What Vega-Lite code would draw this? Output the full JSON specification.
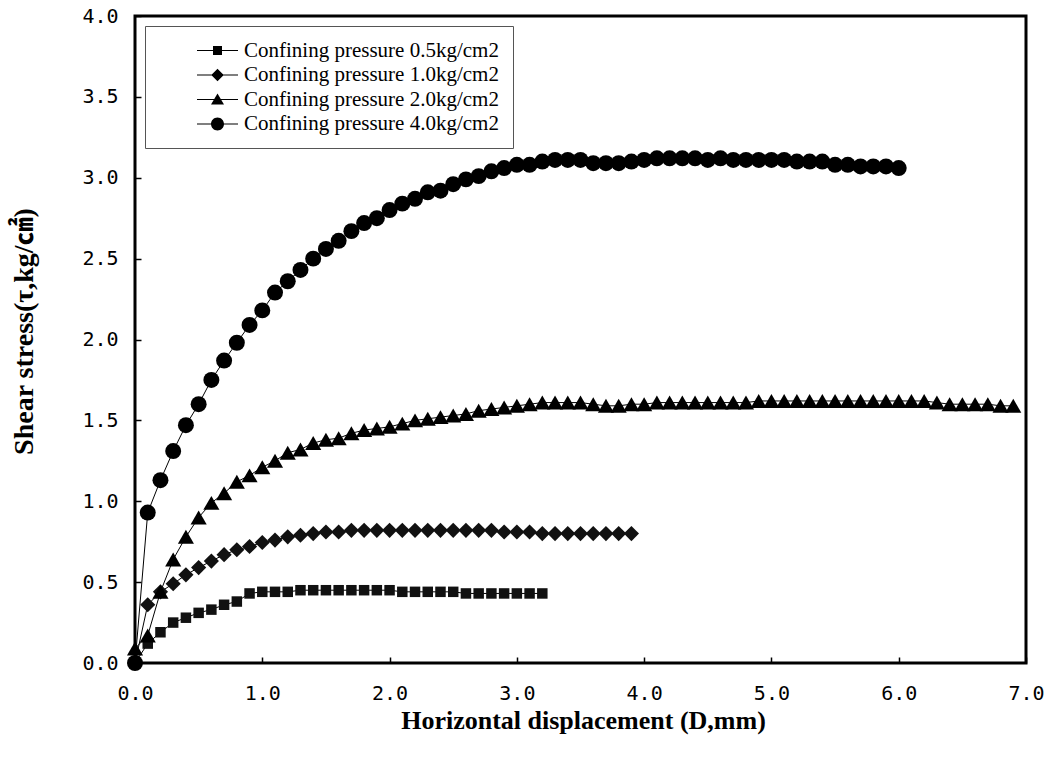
{
  "$schema": "https://vega.github.io/schema/vega-lite/v6.json",
  "width": 891,
  "height": 647,
  "autosize": {"type": "none"},
  "padding": {"left": 135, "top": 16, "right": 19, "bottom": 94},
  "background": "#ffffff",
  "config": {
    "view": {"stroke": "#000000", "strokeWidth": 3},
    "axis": {
      "grid": false,
      "domain": false,
      "ticks": true,
      "tickColor": "#000000",
      "tickWidth": 1.5,
      "tickSize": -6,
      "labelFont": "DejaVu Sans Mono",
      "labelFontSize": 20,
      "labelColor": "#000000",
      "labelFlush": false,
      "labelOverlap": false,
      "titleFont": "'Liberation Serif', 'Noto Sans CJK KR'",
      "titleFontWeight": "bold",
      "titleColor": "#000000"
    }
  },
  "data": {
    "values": [
      {"pressure": "0.5kg/cm2", "disp": 0.0, "stress": 0.0},
      {"pressure": "0.5kg/cm2", "disp": 0.1, "stress": 0.12},
      {"pressure": "0.5kg/cm2", "disp": 0.2, "stress": 0.19},
      {"pressure": "0.5kg/cm2", "disp": 0.3, "stress": 0.25},
      {"pressure": "0.5kg/cm2", "disp": 0.4, "stress": 0.28},
      {"pressure": "0.5kg/cm2", "disp": 0.5, "stress": 0.31},
      {"pressure": "0.5kg/cm2", "disp": 0.6, "stress": 0.33},
      {"pressure": "0.5kg/cm2", "disp": 0.7, "stress": 0.36},
      {"pressure": "0.5kg/cm2", "disp": 0.8, "stress": 0.38},
      {"pressure": "0.5kg/cm2", "disp": 0.9, "stress": 0.43},
      {"pressure": "0.5kg/cm2", "disp": 1.0, "stress": 0.44},
      {"pressure": "0.5kg/cm2", "disp": 1.1, "stress": 0.44},
      {"pressure": "0.5kg/cm2", "disp": 1.2, "stress": 0.44},
      {"pressure": "0.5kg/cm2", "disp": 1.3, "stress": 0.45},
      {"pressure": "0.5kg/cm2", "disp": 1.4, "stress": 0.45},
      {"pressure": "0.5kg/cm2", "disp": 1.5, "stress": 0.45},
      {"pressure": "0.5kg/cm2", "disp": 1.6, "stress": 0.45},
      {"pressure": "0.5kg/cm2", "disp": 1.7, "stress": 0.45},
      {"pressure": "0.5kg/cm2", "disp": 1.8, "stress": 0.45},
      {"pressure": "0.5kg/cm2", "disp": 1.9, "stress": 0.45},
      {"pressure": "0.5kg/cm2", "disp": 2.0, "stress": 0.45},
      {"pressure": "0.5kg/cm2", "disp": 2.1, "stress": 0.44},
      {"pressure": "0.5kg/cm2", "disp": 2.2, "stress": 0.44},
      {"pressure": "0.5kg/cm2", "disp": 2.3, "stress": 0.44},
      {"pressure": "0.5kg/cm2", "disp": 2.4, "stress": 0.44},
      {"pressure": "0.5kg/cm2", "disp": 2.5, "stress": 0.44},
      {"pressure": "0.5kg/cm2", "disp": 2.6, "stress": 0.43},
      {"pressure": "0.5kg/cm2", "disp": 2.7, "stress": 0.43},
      {"pressure": "0.5kg/cm2", "disp": 2.8, "stress": 0.43},
      {"pressure": "0.5kg/cm2", "disp": 2.9, "stress": 0.43},
      {"pressure": "0.5kg/cm2", "disp": 3.0, "stress": 0.43},
      {"pressure": "0.5kg/cm2", "disp": 3.1, "stress": 0.43},
      {"pressure": "0.5kg/cm2", "disp": 3.2, "stress": 0.43},

      {"pressure": "1.0kg/cm2", "disp": 0.0, "stress": 0.0},
      {"pressure": "1.0kg/cm2", "disp": 0.1, "stress": 0.36},
      {"pressure": "1.0kg/cm2", "disp": 0.2, "stress": 0.44},
      {"pressure": "1.0kg/cm2", "disp": 0.3, "stress": 0.49},
      {"pressure": "1.0kg/cm2", "disp": 0.4, "stress": 0.545},
      {"pressure": "1.0kg/cm2", "disp": 0.5, "stress": 0.59},
      {"pressure": "1.0kg/cm2", "disp": 0.6, "stress": 0.63},
      {"pressure": "1.0kg/cm2", "disp": 0.7, "stress": 0.67},
      {"pressure": "1.0kg/cm2", "disp": 0.8, "stress": 0.7},
      {"pressure": "1.0kg/cm2", "disp": 0.9, "stress": 0.72},
      {"pressure": "1.0kg/cm2", "disp": 1.0, "stress": 0.745},
      {"pressure": "1.0kg/cm2", "disp": 1.1, "stress": 0.76},
      {"pressure": "1.0kg/cm2", "disp": 1.2, "stress": 0.78},
      {"pressure": "1.0kg/cm2", "disp": 1.3, "stress": 0.79},
      {"pressure": "1.0kg/cm2", "disp": 1.4, "stress": 0.8},
      {"pressure": "1.0kg/cm2", "disp": 1.5, "stress": 0.81},
      {"pressure": "1.0kg/cm2", "disp": 1.6, "stress": 0.81},
      {"pressure": "1.0kg/cm2", "disp": 1.7, "stress": 0.82},
      {"pressure": "1.0kg/cm2", "disp": 1.8, "stress": 0.82},
      {"pressure": "1.0kg/cm2", "disp": 1.9, "stress": 0.82},
      {"pressure": "1.0kg/cm2", "disp": 2.0, "stress": 0.82},
      {"pressure": "1.0kg/cm2", "disp": 2.1, "stress": 0.82},
      {"pressure": "1.0kg/cm2", "disp": 2.2, "stress": 0.82},
      {"pressure": "1.0kg/cm2", "disp": 2.3, "stress": 0.82},
      {"pressure": "1.0kg/cm2", "disp": 2.4, "stress": 0.82},
      {"pressure": "1.0kg/cm2", "disp": 2.5, "stress": 0.82},
      {"pressure": "1.0kg/cm2", "disp": 2.6, "stress": 0.82},
      {"pressure": "1.0kg/cm2", "disp": 2.7, "stress": 0.82},
      {"pressure": "1.0kg/cm2", "disp": 2.8, "stress": 0.82},
      {"pressure": "1.0kg/cm2", "disp": 2.9, "stress": 0.81},
      {"pressure": "1.0kg/cm2", "disp": 3.0, "stress": 0.81},
      {"pressure": "1.0kg/cm2", "disp": 3.1, "stress": 0.81},
      {"pressure": "1.0kg/cm2", "disp": 3.2, "stress": 0.8},
      {"pressure": "1.0kg/cm2", "disp": 3.3, "stress": 0.8},
      {"pressure": "1.0kg/cm2", "disp": 3.4, "stress": 0.8},
      {"pressure": "1.0kg/cm2", "disp": 3.5, "stress": 0.8},
      {"pressure": "1.0kg/cm2", "disp": 3.6, "stress": 0.8},
      {"pressure": "1.0kg/cm2", "disp": 3.7, "stress": 0.8},
      {"pressure": "1.0kg/cm2", "disp": 3.8, "stress": 0.8},
      {"pressure": "1.0kg/cm2", "disp": 3.9, "stress": 0.8},

      {"pressure": "2.0kg/cm2", "disp": 0.0, "stress": 0.09},
      {"pressure": "2.0kg/cm2", "disp": 0.1, "stress": 0.17},
      {"pressure": "2.0kg/cm2", "disp": 0.2, "stress": 0.44},
      {"pressure": "2.0kg/cm2", "disp": 0.3, "stress": 0.64},
      {"pressure": "2.0kg/cm2", "disp": 0.4, "stress": 0.78},
      {"pressure": "2.0kg/cm2", "disp": 0.5, "stress": 0.9},
      {"pressure": "2.0kg/cm2", "disp": 0.6, "stress": 0.99},
      {"pressure": "2.0kg/cm2", "disp": 0.7, "stress": 1.05},
      {"pressure": "2.0kg/cm2", "disp": 0.8, "stress": 1.12},
      {"pressure": "2.0kg/cm2", "disp": 0.9, "stress": 1.16},
      {"pressure": "2.0kg/cm2", "disp": 1.0, "stress": 1.21},
      {"pressure": "2.0kg/cm2", "disp": 1.1, "stress": 1.25},
      {"pressure": "2.0kg/cm2", "disp": 1.2, "stress": 1.3},
      {"pressure": "2.0kg/cm2", "disp": 1.3, "stress": 1.32},
      {"pressure": "2.0kg/cm2", "disp": 1.4, "stress": 1.36},
      {"pressure": "2.0kg/cm2", "disp": 1.5, "stress": 1.38},
      {"pressure": "2.0kg/cm2", "disp": 1.6, "stress": 1.39},
      {"pressure": "2.0kg/cm2", "disp": 1.7, "stress": 1.42},
      {"pressure": "2.0kg/cm2", "disp": 1.8, "stress": 1.44},
      {"pressure": "2.0kg/cm2", "disp": 1.9, "stress": 1.45},
      {"pressure": "2.0kg/cm2", "disp": 2.0, "stress": 1.46},
      {"pressure": "2.0kg/cm2", "disp": 2.1, "stress": 1.48},
      {"pressure": "2.0kg/cm2", "disp": 2.2, "stress": 1.5},
      {"pressure": "2.0kg/cm2", "disp": 2.3, "stress": 1.51},
      {"pressure": "2.0kg/cm2", "disp": 2.4, "stress": 1.52},
      {"pressure": "2.0kg/cm2", "disp": 2.5, "stress": 1.53},
      {"pressure": "2.0kg/cm2", "disp": 2.6, "stress": 1.54},
      {"pressure": "2.0kg/cm2", "disp": 2.7, "stress": 1.56},
      {"pressure": "2.0kg/cm2", "disp": 2.8, "stress": 1.57},
      {"pressure": "2.0kg/cm2", "disp": 2.9, "stress": 1.58},
      {"pressure": "2.0kg/cm2", "disp": 3.0, "stress": 1.59},
      {"pressure": "2.0kg/cm2", "disp": 3.1, "stress": 1.6},
      {"pressure": "2.0kg/cm2", "disp": 3.2, "stress": 1.61},
      {"pressure": "2.0kg/cm2", "disp": 3.3, "stress": 1.61},
      {"pressure": "2.0kg/cm2", "disp": 3.4, "stress": 1.61},
      {"pressure": "2.0kg/cm2", "disp": 3.5, "stress": 1.61},
      {"pressure": "2.0kg/cm2", "disp": 3.6, "stress": 1.6},
      {"pressure": "2.0kg/cm2", "disp": 3.7, "stress": 1.59},
      {"pressure": "2.0kg/cm2", "disp": 3.8, "stress": 1.59},
      {"pressure": "2.0kg/cm2", "disp": 3.9, "stress": 1.6},
      {"pressure": "2.0kg/cm2", "disp": 4.0, "stress": 1.6},
      {"pressure": "2.0kg/cm2", "disp": 4.1, "stress": 1.61},
      {"pressure": "2.0kg/cm2", "disp": 4.2, "stress": 1.61},
      {"pressure": "2.0kg/cm2", "disp": 4.3, "stress": 1.61},
      {"pressure": "2.0kg/cm2", "disp": 4.4, "stress": 1.61},
      {"pressure": "2.0kg/cm2", "disp": 4.5, "stress": 1.61},
      {"pressure": "2.0kg/cm2", "disp": 4.6, "stress": 1.61},
      {"pressure": "2.0kg/cm2", "disp": 4.7, "stress": 1.61},
      {"pressure": "2.0kg/cm2", "disp": 4.8, "stress": 1.61},
      {"pressure": "2.0kg/cm2", "disp": 4.9, "stress": 1.62},
      {"pressure": "2.0kg/cm2", "disp": 5.0, "stress": 1.62},
      {"pressure": "2.0kg/cm2", "disp": 5.1, "stress": 1.62},
      {"pressure": "2.0kg/cm2", "disp": 5.2, "stress": 1.62},
      {"pressure": "2.0kg/cm2", "disp": 5.3, "stress": 1.62},
      {"pressure": "2.0kg/cm2", "disp": 5.4, "stress": 1.62},
      {"pressure": "2.0kg/cm2", "disp": 5.5, "stress": 1.62},
      {"pressure": "2.0kg/cm2", "disp": 5.6, "stress": 1.62},
      {"pressure": "2.0kg/cm2", "disp": 5.7, "stress": 1.62},
      {"pressure": "2.0kg/cm2", "disp": 5.8, "stress": 1.62},
      {"pressure": "2.0kg/cm2", "disp": 5.9, "stress": 1.62},
      {"pressure": "2.0kg/cm2", "disp": 6.0, "stress": 1.62},
      {"pressure": "2.0kg/cm2", "disp": 6.1, "stress": 1.62},
      {"pressure": "2.0kg/cm2", "disp": 6.2, "stress": 1.62},
      {"pressure": "2.0kg/cm2", "disp": 6.3, "stress": 1.61},
      {"pressure": "2.0kg/cm2", "disp": 6.4, "stress": 1.6},
      {"pressure": "2.0kg/cm2", "disp": 6.5, "stress": 1.6},
      {"pressure": "2.0kg/cm2", "disp": 6.6, "stress": 1.6},
      {"pressure": "2.0kg/cm2", "disp": 6.7, "stress": 1.6},
      {"pressure": "2.0kg/cm2", "disp": 6.8, "stress": 1.59},
      {"pressure": "2.0kg/cm2", "disp": 6.9, "stress": 1.59},

      {"pressure": "4.0kg/cm2", "disp": 0.0, "stress": 0.0},
      {"pressure": "4.0kg/cm2", "disp": 0.1, "stress": 0.93},
      {"pressure": "4.0kg/cm2", "disp": 0.2, "stress": 1.13},
      {"pressure": "4.0kg/cm2", "disp": 0.3, "stress": 1.31},
      {"pressure": "4.0kg/cm2", "disp": 0.4, "stress": 1.47},
      {"pressure": "4.0kg/cm2", "disp": 0.5, "stress": 1.6},
      {"pressure": "4.0kg/cm2", "disp": 0.6, "stress": 1.75},
      {"pressure": "4.0kg/cm2", "disp": 0.7, "stress": 1.87},
      {"pressure": "4.0kg/cm2", "disp": 0.8, "stress": 1.98},
      {"pressure": "4.0kg/cm2", "disp": 0.9, "stress": 2.09},
      {"pressure": "4.0kg/cm2", "disp": 1.0, "stress": 2.18},
      {"pressure": "4.0kg/cm2", "disp": 1.1, "stress": 2.29},
      {"pressure": "4.0kg/cm2", "disp": 1.2, "stress": 2.36},
      {"pressure": "4.0kg/cm2", "disp": 1.3, "stress": 2.43},
      {"pressure": "4.0kg/cm2", "disp": 1.4, "stress": 2.5},
      {"pressure": "4.0kg/cm2", "disp": 1.5, "stress": 2.56},
      {"pressure": "4.0kg/cm2", "disp": 1.6, "stress": 2.61},
      {"pressure": "4.0kg/cm2", "disp": 1.7, "stress": 2.67},
      {"pressure": "4.0kg/cm2", "disp": 1.8, "stress": 2.72},
      {"pressure": "4.0kg/cm2", "disp": 1.9, "stress": 2.75},
      {"pressure": "4.0kg/cm2", "disp": 2.0, "stress": 2.8},
      {"pressure": "4.0kg/cm2", "disp": 2.1, "stress": 2.84},
      {"pressure": "4.0kg/cm2", "disp": 2.2, "stress": 2.87},
      {"pressure": "4.0kg/cm2", "disp": 2.3, "stress": 2.91},
      {"pressure": "4.0kg/cm2", "disp": 2.4, "stress": 2.92},
      {"pressure": "4.0kg/cm2", "disp": 2.5, "stress": 2.96},
      {"pressure": "4.0kg/cm2", "disp": 2.6, "stress": 2.99},
      {"pressure": "4.0kg/cm2", "disp": 2.7, "stress": 3.01},
      {"pressure": "4.0kg/cm2", "disp": 2.8, "stress": 3.04},
      {"pressure": "4.0kg/cm2", "disp": 2.9, "stress": 3.06},
      {"pressure": "4.0kg/cm2", "disp": 3.0, "stress": 3.08},
      {"pressure": "4.0kg/cm2", "disp": 3.1, "stress": 3.08},
      {"pressure": "4.0kg/cm2", "disp": 3.2, "stress": 3.1},
      {"pressure": "4.0kg/cm2", "disp": 3.3, "stress": 3.11},
      {"pressure": "4.0kg/cm2", "disp": 3.4, "stress": 3.11},
      {"pressure": "4.0kg/cm2", "disp": 3.5, "stress": 3.11},
      {"pressure": "4.0kg/cm2", "disp": 3.6, "stress": 3.09},
      {"pressure": "4.0kg/cm2", "disp": 3.7, "stress": 3.09},
      {"pressure": "4.0kg/cm2", "disp": 3.8, "stress": 3.09},
      {"pressure": "4.0kg/cm2", "disp": 3.9, "stress": 3.1},
      {"pressure": "4.0kg/cm2", "disp": 4.0, "stress": 3.11},
      {"pressure": "4.0kg/cm2", "disp": 4.1, "stress": 3.12},
      {"pressure": "4.0kg/cm2", "disp": 4.2, "stress": 3.12},
      {"pressure": "4.0kg/cm2", "disp": 4.3, "stress": 3.12},
      {"pressure": "4.0kg/cm2", "disp": 4.4, "stress": 3.12},
      {"pressure": "4.0kg/cm2", "disp": 4.5, "stress": 3.11},
      {"pressure": "4.0kg/cm2", "disp": 4.6, "stress": 3.12},
      {"pressure": "4.0kg/cm2", "disp": 4.7, "stress": 3.11},
      {"pressure": "4.0kg/cm2", "disp": 4.8, "stress": 3.11},
      {"pressure": "4.0kg/cm2", "disp": 4.9, "stress": 3.11},
      {"pressure": "4.0kg/cm2", "disp": 5.0, "stress": 3.11},
      {"pressure": "4.0kg/cm2", "disp": 5.1, "stress": 3.11},
      {"pressure": "4.0kg/cm2", "disp": 5.2, "stress": 3.1},
      {"pressure": "4.0kg/cm2", "disp": 5.3, "stress": 3.1},
      {"pressure": "4.0kg/cm2", "disp": 5.4, "stress": 3.1},
      {"pressure": "4.0kg/cm2", "disp": 5.5, "stress": 3.08},
      {"pressure": "4.0kg/cm2", "disp": 5.6, "stress": 3.08},
      {"pressure": "4.0kg/cm2", "disp": 5.7, "stress": 3.07},
      {"pressure": "4.0kg/cm2", "disp": 5.8, "stress": 3.07},
      {"pressure": "4.0kg/cm2", "disp": 5.9, "stress": 3.07},
      {"pressure": "4.0kg/cm2", "disp": 6.0, "stress": 3.06}
    ]
  },
  "encoding": {
    "x": {
      "field": "disp",
      "type": "quantitative",
      "scale": {"domain": [0, 7], "nice": false, "zero": false},
      "axis": {
        "values": [0, 1, 2, 3, 4, 5, 6, 7],
        "format": ".1f",
        "labelPadding": 26,
        "labelDx": -7,
        "title": "Horizontal displacement (D,mm)",
        "titleFontSize": 26,
        "titleX": 448,
        "titleY": 57,
        "titleBaseline": "middle",
        "titleAlign": "center"
      }
    },
    "y": {
      "field": "stress",
      "type": "quantitative",
      "scale": {"domain": [0, 4], "nice": false},
      "axis": {
        "values": [0, 0.5, 1, 1.5, 2, 2.5, 3, 3.5, 4],
        "format": ".1f",
        "labelPadding": 23,
        "title": "Shear stress(τ,kg/㎠)",
        "titleFontSize": 28,
        "titleAngle": -90,
        "titleX": -111,
        "titleY": 315,
        "titleBaseline": "middle",
        "titleAlign": "center"
      }
    }
  },
  "layer": [
    {
      "mark": {"type": "line", "color": "#000000", "strokeWidth": 1},
      "encoding": {"detail": {"field": "pressure", "type": "nominal"}}
    },
    {
      "transform": [{"filter": "datum.pressure === '0.5kg/cm2'"}],
      "mark": {"type": "point", "shape": "square", "filled": true, "opacity": 1, "color": "#111111", "size": 110}
    },
    {
      "transform": [{"filter": "datum.pressure === '1.0kg/cm2'"}],
      "mark": {"type": "point", "shape": "diamond", "filled": true, "opacity": 1, "color": "#111111", "size": 230}
    },
    {
      "transform": [{"filter": "datum.pressure === '2.0kg/cm2'"}],
      "mark": {"type": "point", "shape": "triangle-up", "filled": true, "opacity": 1, "color": "#000000", "size": 260}
    },
    {
      "transform": [{"filter": "datum.pressure === '4.0kg/cm2'"}],
      "mark": {"type": "point", "shape": "circle", "filled": true, "opacity": 1, "color": "#000000", "size": 255}
    },
    {
      "mark": {"type": "point", "filled": true, "opacity": 0, "color": "#000000", "size": 100},
      "encoding": {
        "shape": {
          "field": "pressure",
          "type": "nominal",
          "scale": {
            "domain": ["0.5kg/cm2", "1.0kg/cm2", "2.0kg/cm2", "4.0kg/cm2"],
            "range": [
              "M-4.1,-0.1H4.1V0.1H-4.1ZM-0.9,-0.9H0.9V0.9H-0.9Z",
              "M-4.1,-0.1H4.1V0.1H-4.1ZM-1.25,0L0,-1.25L1.25,0L0,1.25Z",
              "M-4.1,-0.1H4.1V0.1H-4.1ZM0,-1.2L1.3,1L-1.3,1Z",
              "M-4.1,-0.1H4.1V0.1H-4.1ZM-1.3,0A1.3,1.3,0,1,1,1.3,0A1.3,1.3,0,1,1,-1.3,0Z"
            ]
          },
          "legend": {
            "title": null,
            "orient": "top-left",
            "offset": 10,
            "padding": 14,
            "fillColor": "#ffffff",
            "strokeColor": "#555555",
            "rowPadding": 2.5,
            "symbolSize": 100,
            "symbolOffset": 48,
            "symbolOpacity": 1,
            "symbolFillColor": "#000000",
            "symbolStrokeColor": "#000000",
            "symbolStrokeWidth": 0.5,
            "labelOffset": 16,
            "labelFont": "Liberation Serif",
            "labelFontSize": 21,
            "labelColor": "#000000",
            "labelLimit": 600,
            "labelExpr": "'Confining pressure ' + datum.label"
          }
        }
      }
    }
  ]
}
